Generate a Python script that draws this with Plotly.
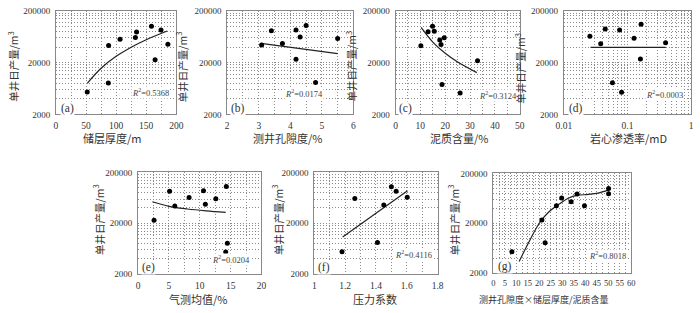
import math
import plotly.graph_objects as go

W, H = 700, 313

# ---------------- data ----------------
a_x = [52, 87, 87.5, 106.5, 132, 134, 158.7, 164.7, 174.5, 186]
a_y = [5420, 8090, 42900, 56200, 61200, 78000, 100900, 22600, 85100, 45400]
a_tx = [52, 75, 100, 125, 150, 185]
a_ty = [7980, 15600, 26400, 39700, 55400, 81500]

b_x = [3.09, 3.40, 3.75, 4.18, 4.31, 4.18, 4.09, 4.50, 4.80, 5.50]
b_y = [43700, 82800, 46900, 85300, 62400, 23100, 5400, 104000, 8280, 58100]
b_tx = [3.07, 5.50]
b_ty = [46900, 29800]

c_x = [10.2, 13.1, 14.9, 15.6, 17.8, 18.3, 19.6, 18.7, 26.0, 33.0]
c_y = [42300, 78600, 100200, 80700, 54700, 44800, 60600, 7520, 5160, 21800]
c_tx = [10.3, 15, 20, 25, 32.7]
c_ty = [95900, 49900, 30200, 20500, 12800]

d_x = [0.0257, 0.0380, 0.0448, 0.0581, 0.0753, 0.0809, 0.127, 0.164, 0.160, 0.398]
d_y = [64600, 46300, 88900, 8150, 85200, 5360, 59300, 110300, 23500, 48400]
d_tx = [0.0263, 0.398]
d_ty = [39500, 39500]

e_x = [2.58, 5.1, 5.95, 8.26, 10.6, 10.9, 12.6, 14.3, 14.47, 14.2]
e_y = [23000, 85200, 44000, 64400, 87700, 47300, 60700, 106200, 8090, 5440]
e_tx = [2.3, 5, 8, 11, 14.2]
e_ty = [53200, 43200, 38200, 35100, 32700]

f_x = [1.18, 1.263, 1.41, 1.451, 1.50, 1.531, 1.603]
f_y = [5520, 61600, 8340, 45900, 104700, 85100, 65300]
f_tx = [1.184, 1.605]
f_ty = [10700, 87600]

g_x = [8.06, 21.1, 22.5, 27.4, 29.7, 33.8, 36.4, 39.6, 50.1, 50.1]
g_y = [5350, 23400, 8110, 45100, 64400, 53800, 77100, 45100, 99300, 78200]
g_tx = [11.2, 15.8, 20.1, 24.3, 28.6, 32.8, 36.4, 41.3, 45.5, 50.1]
g_ty = [3420, 9020, 20500, 34400, 48500, 64400, 72600, 75900, 80500, 93500]

labels = ["(a)", "(b)", "(c)", "(d)", "(e)", "(f)", "(g)"]
r2_texts = ["0.5368", "0.0174", "0.3124", "0.0003", "0.0204", "0.4116", "0.8018"]
x_titles = ["储层厚度/m", "测井孔隙度/%", "泥质含量/%", "岩心渗透率/mD",
            "气测均值/%", "压力系数", "测井孔隙度×储层厚度/泥质含量"]
y_title = "单井日产量/m<sup>3</sup>"
y_tickvals = [2000, 20000, 200000]
y_ticktext = ["2000", "20000", "200000"]

# ---------------- layout geometry (pixels) ----------------
boxes = [
    (49, 172, 6, 113),
    (224, 353, 6, 113),
    (396, 523, 6, 113),
    (568, 698, 6, 113),
    (133, 259, 173, 278),
    (313, 439, 173, 278),
    (496, 637, 174, 277),
]
xcfg = [
    dict(range=[0, 200], tickvals=[0, 50, 100, 150, 200], minor=25),
    dict(range=[2, 6], tickvals=[2, 3, 4, 5, 6], minor=0.5),
    dict(range=[0, 50], tickvals=[0, 10, 20, 30, 40, 50], minor=5),
    dict(log=True),
    dict(range=[0, 20], tickvals=[0, 5, 10, 15, 20], minor=2.5),
    dict(range=[1, 1.8], tickvals=[1, 1.2, 1.4, 1.6, 1.8], minor=0.1),
    dict(range=[0, 60], tickvals=list(range(0, 61, 5)), minor=2.5),
]
series = [
    (a_x, a_y, a_tx, a_ty, "spline"),
    (b_x, b_y, b_tx, b_ty, "linear"),
    (c_x, c_y, c_tx, c_ty, "spline"),
    (d_x, d_y, d_tx, d_ty, "linear"),
    (e_x, e_y, e_tx, e_ty, "spline"),
    (f_x, f_y, f_tx, f_ty, "linear"),
    (g_x, g_y, g_tx, g_ty, "spline"),
]
ytitle_pos = [(5, 64), (177, 64), (350, 64), (523, 66), (92, 222), (275, 222), (455, 222)]
xtitle_pos = [(107, 137), (286, 137), (461, 137), (634, 137), (194, 304), (375, 304), (548, 304)]
xtitle_size = [11, 11, 11, 11, 11, 11, 9]
xtick_size = [9.5, 9.5, 9.5, 9.5, 9.5, 9.5, 8.5]
label_pos = [(53, 107), (227, 107), (399, 107), (572, 107), (136, 271), (316, 271), (500, 270)]
r2_pos = [(166, 90), (323, 91), (521, 94), (691, 92), (248, 263), (434, 258), (633, 259)]

NUMF = "Liberation Serif"
CJKF = "Noto Sans CJK SC"
GRID = "#8a8a8a"
DASH = "1px,2px"

y_minor = [2000 * k for k in range(2, 10)] + [20000 * k for k in range(2, 10)]

fig = go.Figure()
layout = dict(width=W, height=H, margin=dict(l=0, r=0, t=0, b=0),
              paper_bgcolor="white", plot_bgcolor="white", showlegend=False,
              annotations=[])


def px(x):
    return x / W


def py(y):
    return 1 - y / H


for i in range(7):
    n = "" if i == 0 else str(i + 1)
    L, R, T, B = boxes[i]
    sx, sy, tx, ty, shape = series[i]
    fig.add_trace(go.Scatter(x=tx, y=ty, mode="lines", line=dict(color="#222", width=1.2, shape=shape),
                             xaxis="x" + n, yaxis="y" + n, hoverinfo="skip"))
    fig.add_trace(go.Scatter(x=sx, y=sy, mode="markers", marker=dict(color="black", size=5),
                             xaxis="x" + n, yaxis="y" + n))
    cfg = xcfg[i]
    xa = dict(domain=[px(L), px(R)], anchor="y" + n, showline=True, mirror=True,
              linecolor="#888", linewidth=1, ticks="", zeroline=False, tickangle=0,
              showgrid=True, gridcolor=GRID, griddash=DASH, gridwidth=1,
              tickfont=dict(family=NUMF, size=xtick_size[i], color="#333"), ticklabelstandoff=2)
    if cfg.get("log"):
        xa.update(type="log", range=[-2, 0], tickmode="array", tickvals=[0.01, 0.1, 1],
                  ticktext=["0.01", "0.1", "1"],
                  minor=dict(tickmode="array",
                             tickvals=[k * 10 ** e for e in (-2, -1) for k in range(2, 10)],
                             showgrid=True, gridcolor=GRID, griddash=DASH, gridwidth=1, ticks=""))
    else:
        xa.update(range=cfg["range"], tickmode="array", tickvals=cfg["tickvals"],
                  ticktext=[("%g" % v) for v in cfg["tickvals"]],
                  minor=dict(tickmode="linear", tick0=cfg["range"][0], dtick=cfg["minor"],
                             showgrid=True, gridcolor=GRID, griddash=DASH, gridwidth=1, ticks=""))
    ya = dict(domain=[py(B), py(T)], anchor="x" + n, type="log",
              range=[math.log10(2000), math.log10(200000)], showline=True, mirror=True,
              linecolor="#888", linewidth=1, ticks="", zeroline=False,
              tickmode="array", tickvals=y_tickvals, ticktext=y_ticktext,
              showgrid=True, gridcolor=GRID, griddash=DASH, gridwidth=1,
              tickfont=dict(family=NUMF, size=9, color="#333"), ticklabelstandoff=3,
              minor=dict(tickmode="array", tickvals=y_minor, showgrid=True, gridcolor=GRID,
                         griddash=DASH, gridwidth=1, ticks=""))
    layout["xaxis" + n] = xa
    layout["yaxis" + n] = ya

    ann = layout["annotations"]
    xt, yt = xtitle_pos[i]
    ann.append(dict(x=px(xt), y=py(yt), xref="paper", yref="paper", text=x_titles[i],
                    showarrow=False, xanchor="center", yanchor="middle",
                    font=dict(family=CJKF, size=xtitle_size[i], color="#333")))
    xy, yy = ytitle_pos[i]
    ann.append(dict(x=px(xy), y=py(yy), xref="paper", yref="paper", text=y_title,
                    showarrow=False, xanchor="center", yanchor="middle", textangle=-90,
                    font=dict(family=CJKF, size=10.5, color="#333")))
    lx, ly = label_pos[i]
    ann.append(dict(x=px(lx), y=py(ly), xref="paper", yref="paper", text=labels[i],
                    showarrow=False, xanchor="left", yanchor="middle", bgcolor="white",
                    borderpad=0, font=dict(family=NUMF, size=11.5, color="#333")))
    rx, ry = r2_pos[i]
    ann.append(dict(x=px(rx), y=py(ry), xref="paper", yref="paper",
                    text="<i>R</i><sup>2</sup>=" + r2_texts[i],
                    showarrow=False, xanchor="right", yanchor="middle", bgcolor="white",
                    borderpad=0, font=dict(family=NUMF, size=8.5, color="#444")))

fig.update_layout(**layout)
fig.write_html("out.html", config={"displayModeBar": False},
               post_script="document.body.style.margin='0';document.body.style.overflow='hidden';")
